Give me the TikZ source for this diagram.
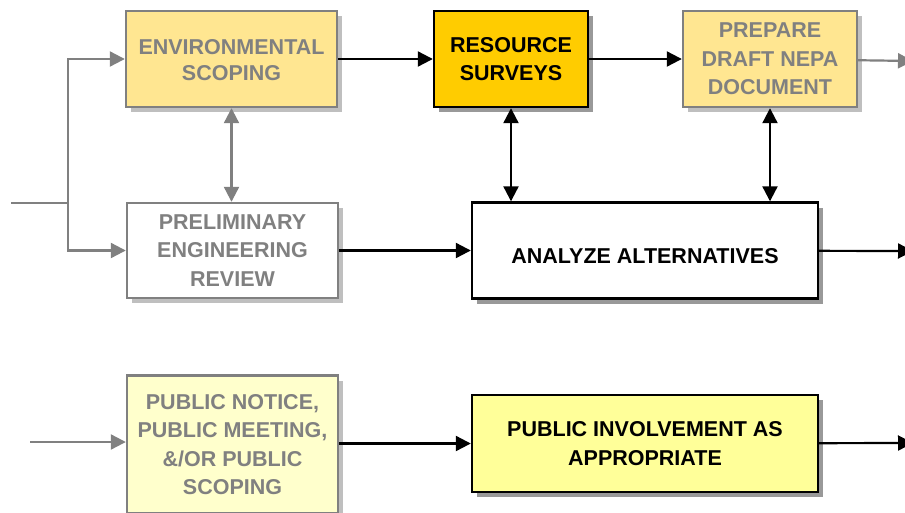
\documentclass[tikz,border=0pt]{standalone}
\usepackage{fontspec}
\setmainfont{Liberation Sans}
\usetikzlibrary{arrows.meta,shadows}

\definecolor{scopegold}{RGB}{255,230,145}
\definecolor{surveygold}{RGB}{255,204,0}
\definecolor{noticeyellow}{RGB}{255,255,204}
\definecolor{involveyellow}{RGB}{255,255,153}
\definecolor{fadegray}{RGB}{128,128,128}

\begin{document}
\begin{tikzpicture}[x=1pt,y=1pt]
    \tikzstyle{block} = [rectangle,draw=black,line width=2.4pt,align=center,
    font=\bfseries\fontsize{21.5pt}{28.5pt}\selectfont,node distance=250pt,
    drop shadow={shadow xshift=5pt,shadow yshift=-5pt,fill=black!40,opacity=1}];
    \tikzstyle{faded} = [draw=fadegray,text=fadegray,
    drop shadow={shadow xshift=5pt,shadow yshift=-5pt,fill=black!25,opacity=1}];
    \tikzstyle{flow} = [line width=2.2pt,-{Triangle[length=15pt,width=15pt]}];
    \tikzstyle{twoway} = [line width=2.2pt,{Triangle[length=15pt,width=15pt]}-{Triangle[length=15pt,width=15pt]}];
    \tikzstyle{gline} = [line width=2.2pt,fadegray];

    \useasboundingbox (0,0) rectangle (905,-512);

    \node[block,faded,name=envscope,fill=scopegold,minimum width=211pt,minimum
    height=96pt] at (231.5,-59) {\raisebox{-2pt}[\height][\depth]{ENVIRONMENTAL}\\SCOPING};
    \node[block,name=ressurvey,right of=envscope,xshift=29.5pt,fill=surveygold,minimum
    width=154pt,minimum height=96pt] {RESOURCE\\SURVEYS};
    \node[block,faded,name=draftnepa,right of=ressurvey,xshift=9pt,fill=scopegold,minimum
    width=174pt,minimum height=96pt] {PREPARE\\DRAFT NEPA\\DOCUMENT};

    \node[block,faded,name=prelimeng,below of=envscope,yshift=58.5pt,xshift=1pt,fill=white,minimum
    width=211pt,minimum height=95pt] {PRELIMINARY\\ENGINEERING\\REVIEW};
    \node[block,name=analyze,right of=prelimeng,xshift=162.5pt,fill=white,minimum
    width=346pt,minimum height=96pt] {\raisebox{-6pt}[\height][\depth]{ANALYZE ALTERNATIVES}};

    \node[block,faded,name=pubnotice,below of=prelimeng,yshift=56pt,fill=noticeyellow,minimum
    width=211pt,minimum height=138pt] {PUBLIC NOTICE,\\PUBLIC MEETING,\\\&/OR PUBLIC\\SCOPING};
    \node[block,name=involve,right of=pubnotice,xshift=162.5pt,yshift=1pt,fill=involveyellow,minimum
    width=346pt,minimum height=97pt] {PUBLIC INVOLVEMENT AS\\APPROPRIATE};

    \coordinate (feed) at (11,-203);
    \coordinate (split) at (68,-203);
    \coordinate (noticefeed) at (30,-442);
    \coordinate (draftout) at (913,-61);
    \coordinate (analyzeout) at (913,-251);
    \coordinate (involveout) at (913,-443);

    \draw[gline] (feed) -- (split);
    \draw[gline,flow] (split) |- (envscope);
    \draw[gline,flow] (split) |- (prelimeng);
    \draw[gline,twoway] (envscope.south) -- (envscope.south |- prelimeng.north);

    \draw[flow] (envscope) -- (ressurvey);
    \draw[flow] (ressurvey) -- (draftnepa);
    \draw[gline,flow] (draftnepa) -- (draftout);
    \draw[twoway] (ressurvey.south) -- (ressurvey.south |- analyze.north);
    \draw[twoway] (draftnepa.south) -- (draftnepa.south |- analyze.north);

    \draw[flow] (prelimeng) -- (analyze);
    \draw[flow] (analyze) -- (analyzeout);

    \draw[gline,flow] (noticefeed) -- (noticefeed -| pubnotice.west);
    \draw[flow] (pubnotice.east |- involve) -- (involve);
    \draw[flow] (involve) -- (involveout);

  \end{tikzpicture}
\end{document}
